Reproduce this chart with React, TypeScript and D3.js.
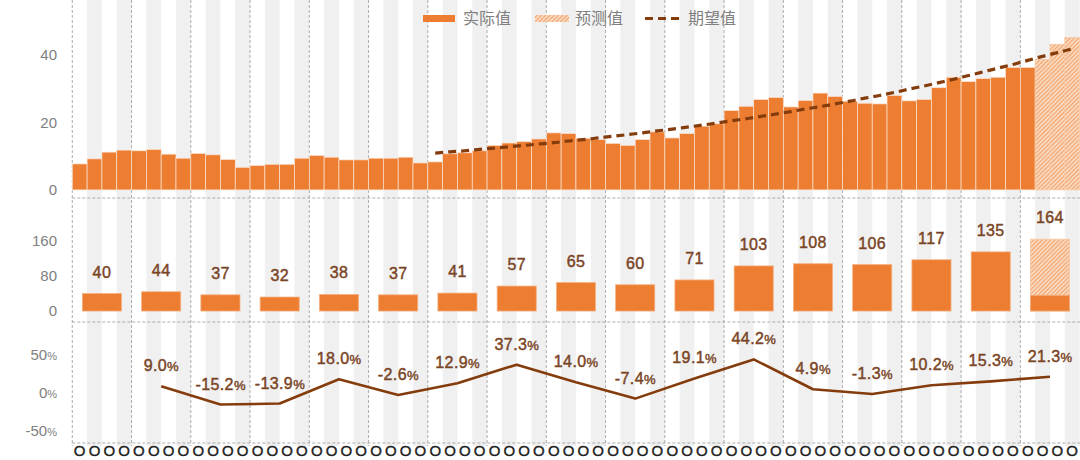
// @ts-nocheck
import React, { useRef, useEffect } from "react";
import * as d3 from "d3";

// quarterly values (last three are forecasts)
const quarterly = [
  7.7, 9.2, 11.2, 11.8,
  11.6, 12.0, 10.6, 9.4,
  10.8, 10.4, 9.0, 6.7,
  7.2, 7.6, 7.6, 9.4,
  10.2, 9.7, 8.9, 8.9,
  9.4, 9.4, 9.7, 8.0,
  8.3, 10.7, 11.0, 11.6,
  13.2, 13.9, 14.3, 15.1,
  16.9, 16.7, 15.3, 14.9,
  13.8, 13.2, 14.9, 17.2,
  15.4, 16.7, 18.9, 19.6,
  23.5, 24.8, 26.8, 27.4,
  24.6, 26.5, 28.7, 27.7,
  26.3, 25.7, 25.5, 28.0,
  26.4, 26.8, 30.3, 33.4,
  32.1, 33.0, 33.4, 36.3,
  36.3, 38.7, 43.2, 45.2,
];
const forecastFrom = 65;

// expected trend, starts at quarter 25
const expectedStart = 24;
const expected = [
  10.9, 11.3, 11.6, 12.0, 12.4, 12.8, 13.2, 13.6, 14.0, 14.5,
  14.9, 15.4, 15.9, 16.4, 16.9, 17.5, 18.0, 18.6, 19.2, 19.8,
  20.5, 21.1, 21.8, 22.5, 23.2, 24.0, 24.7, 25.5, 26.3, 27.2,
  28.0, 28.9, 29.9, 30.8, 31.8, 32.8, 33.9, 35.0, 36.1, 37.2,
  38.4, 39.6, 40.7, 41.8,
];

const annual = [40, 44, 37, 32, 38, 37, 41, 57, 65, 60, 71, 103, 108, 106, 117, 135, 164];
const annualActualLast = 36;

// year-on-year growth, from year 2
const growth = [9.0, -15.2, -13.9, 18.0, -2.6, 12.9, 37.3, 14.0, -7.4, 19.1, 44.2, 4.9, -1.3, 10.2, 15.3, 21.3];

const topTicks = [0, 20, 40];
const midTicks = [0, 80, 160];
const botTicks = [-50, 0, 50];

const legendItems = ["实际值", "预测值", "期望值"];

const W = 1080;
const H = 460;
const ORANGE = "#ed7d31";
const BROWN = "#843c0c";
const LABEL = "#7a4526";
const GRAY = "#808080";
const FONT = "Liberation Sans, Arial, sans-serif";

const App = () => {
  const ref = useRef(null);

  useEffect(() => {
    const svg = d3.select(ref.current);
    svg.selectAll("*").remove();

    const x0 = 72.3;
    const x1 = 1079.6;
    const x = d3.scaleBand().domain(d3.range(quarterly.length)).range([x0, x1]);
    const xYear = d3
      .scaleBand()
      .domain(d3.range(annual.length))
      .range([x0, x1])
      .paddingInner(0.34)
      .paddingOuter(0.17);
    const yearStep = (x1 - x0) / annual.length;

    const yTop = d3.scaleLinear().domain([-2.4, 56.3]).range([198, 0]);
    const yMid = d3.scaleLinear().domain([-25, 258]).range([322, 198]);
    const yBot = d3.scaleLinear().domain([-65.8, 93.4]).range([443, 322]);

    const defs = svg.append("defs");
    const pat = defs
      .append("pattern")
      .attr("id", "hatch")
      .attr("patternUnits", "userSpaceOnUse")
      .attr("width", 3)
      .attr("height", 3)
      .attr("patternTransform", "rotate(45)");
    pat.append("rect").attr("width", 3).attr("height", 3).attr("fill", "#fbe2cf");
    pat.append("rect").attr("width", 1.4).attr("height", 3).attr("fill", "#f3a56c");

    // background stripes
    svg
      .append("g")
      .selectAll("rect")
      .data(d3.range(quarterly.length).filter((i) => i % 2 === 1))
      .join("rect")
      .attr("x", (i) => x(i))
      .attr("y", 0)
      .attr("width", x.bandwidth())
      .attr("height", 446)
      .attr("fill", "#f0f0f0");

    // grid
    const grid = svg
      .append("g")
      .attr("stroke", "#9a9a9a")
      .attr("stroke-width", 0.8)
      .attr("stroke-dasharray", "3,2");
    grid
      .selectAll("line.v")
      .data(d3.range(annual.length))
      .join("line")
      .attr("class", "v")
      .attr("x1", (i) => x0 + i * yearStep)
      .attr("x2", (i) => x0 + i * yearStep)
      .attr("y1", 0)
      .attr("y2", 446);
    grid
      .selectAll("line.h")
      .data([198, 322, 443])
      .join("line")
      .attr("class", "h")
      .attr("x1", x0)
      .attr("x2", W)
      .attr("y1", (d) => d)
      .attr("y2", (d) => d);

    // top panel bars
    svg
      .append("g")
      .selectAll("rect")
      .data(quarterly)
      .join("rect")
      .attr("x", (d, i) => x(i))
      .attr("y", (d) => yTop(d))
      .attr("width", x.bandwidth())
      .attr("height", (d) => yTop(0) - yTop(d))
      .attr("fill", (d, i) => (i >= forecastFrom ? "url(#hatch)" : ORANGE))
      .attr("stroke", (d, i) => (i >= forecastFrom ? "#f8c9a5" : "#fbe3d2"))
      .attr("stroke-width", 0.7);

    // expected dashed line
    const line = d3
      .line()
      .x((d, i) => x(i + expectedStart) + x.bandwidth() / 2)
      .y((d) => yTop(d))
      .curve(d3.curveMonotoneX);
    svg
      .append("path")
      .datum(expected)
      .attr("d", line)
      .attr("fill", "none")
      .attr("stroke", BROWN)
      .attr("stroke-width", 3.2)
      .attr("stroke-dasharray", "8,5");

    const labelStyle = (sel) =>
      sel
        .attr("text-anchor", "middle")
        .attr("font-family", FONT)
        .attr("font-size", 16)
        .attr("letter-spacing", 0.4)
        .attr("fill", LABEL)
        .attr("stroke", LABEL)
        .attr("stroke-width", 0.45);

    // middle panel bars
    const mid = svg.append("g");
    const li = annual.length - 1;
    mid
      .selectAll("rect.a")
      .data(annual)
      .join("rect")
      .attr("class", "a")
      .attr("x", (d, i) => xYear(i))
      .attr("width", xYear.bandwidth())
      .attr("y", (d) => yMid(d))
      .attr("height", (d) => yMid(0) - yMid(d))
      .attr("fill", (d, i) => (i === li ? "url(#hatch)" : ORANGE))
      .attr("stroke", (d, i) => (i === li ? "#f8c9a5" : "#f4b183"))
      .attr("stroke-width", 0.8);
    mid
      .append("rect")
      .attr("x", xYear(li))
      .attr("width", xYear.bandwidth())
      .attr("y", yMid(annualActualLast))
      .attr("height", yMid(0) - yMid(annualActualLast))
      .attr("fill", ORANGE)
      .attr("stroke", "#f4b183")
      .attr("stroke-width", 0.8);
    mid
      .selectAll("text")
      .data(annual)
      .join("text")
      .attr("x", (d, i) => xYear(i) + xYear.bandwidth() / 2)
      .attr("y", (d) => yMid(d) - 16)
      .call(labelStyle)
      .text((d) => d);

    // bottom panel growth line
    const cx = (i) => xYear(i + 1) + xYear.bandwidth() / 2;
    const gLine = d3
      .line()
      .x((d, i) => cx(i))
      .y((d) => yBot(d));
    svg
      .append("path")
      .datum(growth)
      .attr("d", gLine)
      .attr("fill", "none")
      .attr("stroke", BROWN)
      .attr("stroke-width", 2.6)
      .attr("stroke-linejoin", "round");
    const gl = svg
      .append("g")
      .selectAll("text")
      .data(growth)
      .join("text")
      .attr("x", (d, i) => cx(i))
      .attr("y", (d) => yBot(d) - 15)
      .call(labelStyle);
    gl.append("tspan").text((d) => d.toFixed(1));
    gl.append("tspan").attr("font-size", 13).attr("letter-spacing", 0).text("%");

    // y axis labels
    const axisText = (g, ticks, scale, pct) => {
      const t = g
        .selectAll("text")
        .data(ticks)
        .join("text")
        .attr("x", 57)
        .attr("y", (d) => scale(d))
        .attr("dy", "0.35em")
        .attr("text-anchor", "end")
        .attr("font-family", FONT)
        .attr("font-size", 15)
        .attr("fill", GRAY);
      t.append("tspan").text((d) => d);
      if (pct) t.append("tspan").attr("font-size", 11).text("%");
    };
    axisText(svg.append("g"), topTicks, yTop, false);
    axisText(svg.append("g"), midTicks, yMid, false);
    axisText(svg.append("g"), botTicks, yBot, true);

    // category labels along the bottom
    svg
      .append("g")
      .selectAll("text")
      .data(quarterly)
      .join("text")
      .attr("x", (d, i) => x(i) + x.bandwidth() / 2)
      .attr("y", 456.3)
      .attr("text-anchor", "middle")
      .attr("font-family", FONT)
      .attr("font-size", 15)
      .attr("fill", "#222")
      .attr("stroke", "#222")
      .attr("stroke-width", 0.4)
      .text("O");

    // legend
    const lg = svg
      .append("g")
      .attr("font-family", "Noto Sans CJK SC, sans-serif")
      .attr("font-size", 16)
      .attr("fill", GRAY);
    lg.append("rect").attr("x", 423).attr("y", 15).attr("width", 32).attr("height", 7).attr("fill", ORANGE);
    lg.append("rect").attr("x", 535).attr("y", 15).attr("width", 34).attr("height", 7).attr("fill", "url(#hatch)");
    lg.append("line")
      .attr("x1", 645)
      .attr("x2", 679)
      .attr("y1", 18.5)
      .attr("y2", 18.5)
      .attr("stroke", BROWN)
      .attr("stroke-width", 3)
      .attr("stroke-dasharray", "8,5");
    lg.selectAll("text")
      .data(legendItems)
      .join("text")
      .attr("x", (d, i) => [463, 575, 688][i])
      .attr("y", 18.5)
      .attr("dy", "0.35em")
      .text((d) => d);
  }, []);

  return (
    <svg
      ref={ref}
      width={W}
      height={H}
      style={{ position: "absolute", left: 0, top: 0, display: "block", background: "#fff" }}
    />
  );
};

export default App;
